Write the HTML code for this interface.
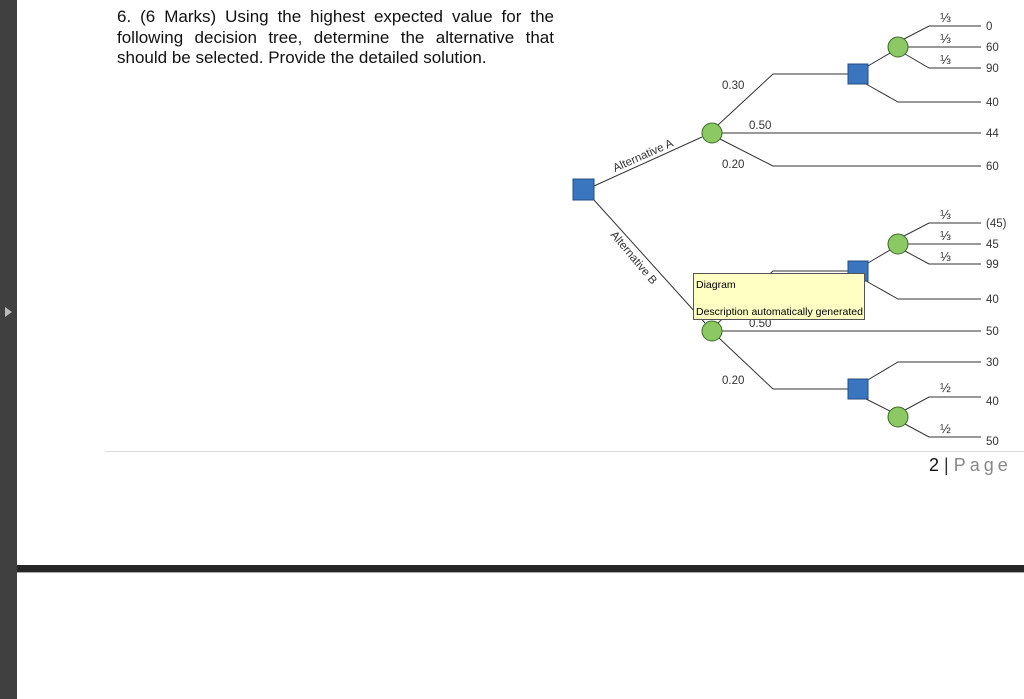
<!DOCTYPE html>
<html><head><style>
html,body{margin:0;padding:0;width:1024px;height:699px;overflow:hidden;background:#fff;}
.q{position:absolute;left:117px;top:7px;width:437px;font:17px/20.7px "Liberation Sans",sans-serif;color:#111;text-align:justify;text-align-last:left;}
</style></head><body>
<div style="position:absolute;left:0;top:0;width:17px;height:699px;background:#404040"></div>
<div style="position:absolute;left:5px;top:307px;width:0;height:0;border-left:7px solid #bbb;border-top:5px solid transparent;border-bottom:5px solid transparent"></div>
<div style="position:absolute;left:17px;top:565px;width:1007px;height:7px;background:#262626"></div>
<div style="position:absolute;left:17px;top:572px;width:1007px;height:1px;background:#aaa"></div>
<div style="position:absolute;left:105px;top:451px;width:919px;height:1px;background:#ddd"></div>
<div class="q">6. (6 Marks) Using the highest expected value for the following decision tree, determine the alternative that should be selected. Provide the detailed solution.</div>
<div style="position:absolute;left:929px;top:455px;font:18px 'Liberation Sans',sans-serif;color:#111;white-space:nowrap">2 <span style="color:#333">|</span> <span style="color:#888;letter-spacing:4px">Page</span></div>
<svg width="1024" height="699" style="position:absolute;left:0;top:0" font-family="Liberation Sans, sans-serif" font-size="11.5" fill="#333">
<g stroke="#333" stroke-width="1" fill="none">
<line x1="594" y1="186" x2="702" y2="137"/>
<line x1="594" y1="200" x2="705" y2="323"/>
<polyline points="718,125 773,74 848,74"/>
<line x1="722" y1="133" x2="981" y2="133"/>
<polyline points="720,139 773,166 981,166"/>
<line x1="868" y1="66" x2="890" y2="53"/>
<polyline points="904,39 929,26 981,26"/>
<line x1="908" y1="47" x2="981" y2="47"/>
<polyline points="905,54 929,68 981,68"/>
<polyline points="866,84 898,102 981,102"/>
<polyline points="718,323 773,271 848,271"/>
<line x1="722" y1="331" x2="981" y2="331"/>
<polyline points="719,338 773,389 848,389"/>
<line x1="868" y1="263" x2="890" y2="250"/>
<polyline points="904,236 929,223 981,223"/>
<line x1="908" y1="244" x2="981" y2="244"/>
<polyline points="905,251 929,264 981,264"/>
<polyline points="866,281 898,299 981,299"/>
<polyline points="866,381 898,362 981,362"/>
<line x1="866" y1="399" x2="890" y2="411"/>
<polyline points="905,410 929,397 981,397"/>
<polyline points="905,424 929,437 981,437"/>
</g>
<g fill="#3a76c0" stroke="#244c80">
<rect x="573" y="179" width="21" height="21"/>
<rect x="848" y="64" width="20" height="20"/>
<rect x="848" y="261" width="20" height="20"/>
<rect x="848" y="379" width="20" height="20"/>
</g>
<g fill="#8cc863" stroke="#3d6a2a">
<circle cx="712" cy="133" r="10"/>
<circle cx="898" cy="47" r="10"/>
<circle cx="898" cy="244" r="10"/>
<circle cx="712" cy="331" r="10"/>
<circle cx="898" cy="417" r="10"/>
</g>
<g>
<text x="722" y="89">0.30</text><text x="749" y="129">0.50</text><text x="722" y="168">0.20</text>
<text x="749" y="327">0.50</text><text x="722" y="384">0.20</text>
<g font-size="13"><text x="940" y="22">⅓</text><text x="940" y="43">⅓</text><text x="940" y="64">⅓</text>
<text x="940" y="219">⅓</text><text x="940" y="240">⅓</text><text x="940" y="261">⅓</text>
<text x="940" y="392">½</text><text x="940" y="433">½</text></g>
<text x="986" y="30">0</text><text x="986" y="51">60</text><text x="986" y="72">90</text><text x="986" y="106">40</text>
<text x="986" y="137">44</text><text x="986" y="170">60</text>
<text x="986" y="227">(45)</text><text x="986" y="248">45</text><text x="986" y="268">99</text><text x="986" y="303">40</text>
<text x="986" y="335">50</text><text x="986" y="366">30</text><text x="986" y="405">40</text><text x="986" y="445">50</text>
<text transform="translate(615,172) rotate(-24)">Alternative A</text>
<text transform="translate(610,235) rotate(50)">Alternative B</text>
</g>
<rect x="693.5" y="273.5" width="171" height="46" fill="#ffffc4" stroke="#555"/>
<text x="696" y="288" font-size="10.5" fill="#000">Diagram</text>
<text x="696" y="315" font-size="10.5" fill="#000">Description automatically generated</text>
</svg>
</body></html>
